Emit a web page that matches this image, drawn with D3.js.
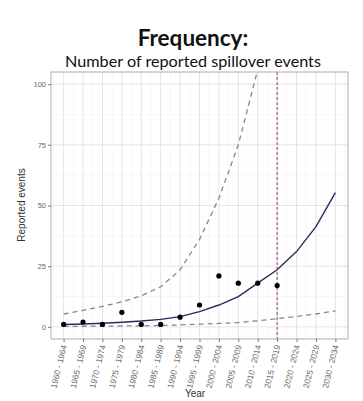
<!DOCTYPE html>
<html><head><meta charset="utf-8">
<script src="https://cdn.jsdelivr.net/npm/d3@7"></script>
<style>body{margin:0;background:#fff}svg{display:block}</style>
</head><body>
<script>
const categories = ["1960 - 1964","1965 - 1969","1970 - 1974","1975 - 1979","1980 - 1984","1985 - 1989","1990 - 1994","1995 - 1999","2000 - 2004","2005 - 2009","2010 - 2014","2015 - 2019","2020 - 2024","2025 - 2029","2030 - 2034"];
const observed = [1,2,1,6,1,1,4,9,21,18,18,17];
const fitted = [1.0,1.2,1.5,1.9,2.4,3.1,4.2,6.3,9.0,12.5,18,23.5,31,41.3,55.3];
const upper = [5.3,6.8,8.4,10.3,12.8,16.5,23.5,36,53,75,106,150,210,290,400];
const lower = [0.2,0.25,0.3,0.35,0.45,0.55,0.8,1.1,1.4,1.8,2.5,3.4,4.3,5.3,6.6];
const yTicks = [0,25,50,75,100];
const yMinor = [12.5,37.5,62.5,87.5];
const markerCategory = "2015 - 2019";

const W=363,H=401;
const svg=d3.select("body").append("svg").attr("width",W).attr("height",H);
const L=51,R=348,T=72,B=339;
const x=d3.scalePoint().domain(categories).range([L,R]).padding(0.65);
const y=d3.scaleLinear().domain([-5,105]).range([B,T]);

svg.append("text").attr("x",193).attr("y",46).attr("text-anchor","middle")
  .attr("font-family","Lato, 'Open Sans', sans-serif").attr("font-weight","bold").attr("font-size",22.5).attr("fill","#111").text("Frequency:");
svg.append("text").attr("x",193).attr("y",67).attr("text-anchor","middle")
  .attr("font-family","Lato, 'Open Sans', sans-serif").attr("font-size",16.2).attr("fill","#111").text("Number of reported spillover events");

const g=svg.append("g");
const step=x.step();
const minorX=categories.map(c=>x(c)-step/2).concat([x(categories[categories.length-1])+step/2]).filter(v=>v>L&&v<R);
g.selectAll(".mx").data(minorX).enter().append("line").attr("x1",d=>d).attr("x2",d=>d).attr("y1",T).attr("y2",B).attr("stroke","#f2f2f2").attr("stroke-width",0.6);
g.selectAll(".my").data(yMinor).enter().append("line").attr("x1",L).attr("x2",R).attr("y1",d=>y(d)).attr("y2",d=>y(d)).attr("stroke","#f2f2f2").attr("stroke-width",0.6);
g.selectAll(".gx").data(categories).enter().append("line").attr("x1",d=>x(d)).attr("x2",d=>x(d)).attr("y1",T).attr("y2",B).attr("stroke","#e4e4e4").attr("stroke-width",1);
g.selectAll(".gy").data(yTicks).enter().append("line").attr("x1",L).attr("x2",R).attr("y1",d=>y(d)).attr("y2",d=>y(d)).attr("stroke","#e4e4e4").attr("stroke-width",1);

svg.append("clipPath").attr("id","clip").append("rect").attr("x",L).attr("y",T).attr("width",R-L).attr("height",B-T);
const pg=svg.append("g").attr("clip-path","url(#clip)");
const line=d3.line().x((d,i)=>x(categories[i])).y(d=>y(d));
pg.append("path").attr("d",line(upper)).attr("fill","none").attr("stroke","#6f928e").attr("stroke-width",1.3).attr("stroke-dasharray","5,4");
pg.append("path").attr("d",line(lower)).attr("fill","none").attr("stroke","#6f928e").attr("stroke-width",1.3).attr("stroke-dasharray","5,4");
pg.append("path").attr("d",line(fitted)).attr("fill","none").attr("stroke","#2c2a5a").attr("stroke-width",1.4);
pg.append("line").attr("x1",x(markerCategory)).attr("x2",x(markerCategory)).attr("y1",T).attr("y2",B)
  .attr("stroke","#a6473a").attr("stroke-width",1).attr("stroke-dasharray","3,2");
pg.selectAll(".pt").data(observed).enter().append("circle").attr("cx",(d,i)=>x(categories[i])).attr("cy",d=>y(d)).attr("r",2.6).attr("fill","#000");

svg.append("rect").attr("x",L).attr("y",T).attr("width",R-L).attr("height",B-T).attr("fill","none").attr("stroke","#9a9a9a").attr("stroke-width",0.8);

const yAxis=svg.append("g").attr("transform",`translate(${L},0)`).call(d3.axisLeft(y).tickValues(yTicks).tickSize(3).tickPadding(2));
const xAxis=svg.append("g").attr("transform",`translate(0,${B})`).call(d3.axisBottom(x).tickSize(3).tickPadding(2));
[yAxis,xAxis].forEach(a=>{a.select(".domain").remove();a.selectAll(".tick line").attr("stroke","#777");
  a.selectAll("text").attr("fill","#666").attr("font-family","Liberation Sans, Arial, sans-serif").attr("font-size",7.5);});
xAxis.selectAll("text").attr("text-anchor","end").attr("dy","0.35em").attr("font-size",8.3)
  .attr("transform","translate(0,6) rotate(-76)").attr("x",0).attr("y",0);

svg.append("text").attr("x",195).attr("y",397).attr("text-anchor","middle").attr("font-family","Liberation Sans, Arial, sans-serif").attr("font-size",10).attr("fill","#333").text("Year");
svg.append("text").attr("transform","translate(25,205) rotate(-90)").attr("text-anchor","middle").attr("font-family","Liberation Sans, Arial, sans-serif").attr("font-size",10).attr("fill","#333").text("Reported events");
</script>
</body></html>
